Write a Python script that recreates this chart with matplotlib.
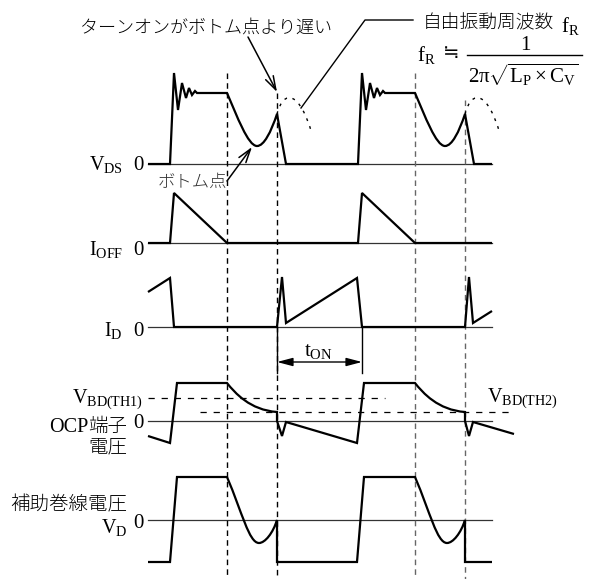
import matplotlib
matplotlib.use("Agg")
import matplotlib.pyplot as plt
from matplotlib.path import Path
from matplotlib.patches import PathPatch

plt.rcParams["mathtext.fontset"] = "custom"
plt.rcParams["mathtext.rm"] = "Liberation Serif"
plt.rcParams["mathtext.it"] = "Liberation Serif:italic"
plt.rcParams["mathtext.sf"] = "Liberation Serif"

SERIF = ["Liberation Serif", "Noto Sans CJK JP"]
JP = ["Noto Sans CJK JP", "DejaVu Sans"]

# ---------------- timing (shared time axis) ----------------
T_START, T_END = 148, 492
T_RESET = [227, 415]      # reset ends, free resonance begins
T_TURN_ON = [277, 465]    # switch turns on (later than the bottom)
MARK_TOP = [73, 93, 73, 100]

# ---------------- waveforms ----------------
# (t, level) vertices; ("C", t1, v1, t2, v2, t, v) is a cubic segment
vds = [(148, 0), (170, 0), (174, 91), (178, 54), (182, 81), (186, 66), (189, 76),
       (192, 69), (195, 73), (197, 71), (227, 71),
       ("C", 237, 48, 248, 18, 257, 18), ("C", 264, 18, 271, 32, 277, 50), (286, 0),
       (358, 0), (362, 91), (366, 54), (370, 81), (374, 66), (377, 76),
       (380, 69), (383, 73), (385, 71), (415, 71),
       ("C", 425, 48, 436, 18, 445, 18), ("C", 452, 18, 459, 32, 465, 50), (474, 0),
       (492, 0)]
vds_free_1 = [(277, 50), ("C", 284, 76, 300, 72, 312, 30)]
vds_free_2 = [(465, 50), ("C", 472, 76, 488, 72, 500, 30)]

i_off = [(148, 0), (170, 0), (174, 50), (227, 0), (358, 0), (362, 50), (415, 0), (492, 0)]

i_d = [(148, 35), (170, 49), (174, 0), (277, 0), (282, 50), (286, 4), (357, 49),
       (362, 0), (465, 0), (469, 50), (473, 4), (492, 16)]

v_ocp = [(148, -15), (170, -22), (177, 38), (227, 38),
         ("C", 235, 28, 250, 11, 277, 9), (277, 0), (282, -15), (286, -1),
         (357, -22), (364, 38), (415, 38),
         ("C", 423, 28, 438, 11, 465, 9), (465, 0), (469, -15), (473, -1),
         (514, -13)]
VBD_TH1, VBD_TH2 = 23, 9

v_d = [(148, -42), (170, -42), (177, 43), (227, 43),
       ("C", 242, 8, 249, -23, 259, -23), ("C", 265, -23, 273, -13, 277, 0),
       (277, -42), (357, -42), (364, 43), (415, 43),
       ("C", 430, 8, 437, -23, 447, -23), ("C", 453, -23, 461, -13, 465, 0),
       (465, -42), (492, -42)]

# zero-line position of each trace
BASE = {"vds": 164, "ioff": 243, "id": 327, "ocp": 421, "vd": 520}

W, H = 589, 579
fig = plt.figure(figsize=(W / 100, H / 100), dpi=100)
ax = fig.add_axes([0, 0, 1, 1])
ax.set_xlim(0, W)
ax.set_ylim(H, 0)
ax.axis("off")


def trace_path(points, base):
    verts, codes = [], []
    for i, p in enumerate(points):
        if p[0] == "C":
            _, t1, v1, t2, v2, t, v = p
            verts += [(t1, base - v1), (t2, base - v2), (t, base - v)]
            codes += [Path.CURVE4] * 3
        else:
            verts.append((p[0], base - p[1]))
            codes.append(Path.MOVETO if i == 0 else Path.LINETO)
    return Path(verts, codes)


def draw_trace(points, base, **kw):
    style = dict(fill=False, lw=1.6, ec="black", joinstyle="miter", capstyle="butt")
    style.update(kw)
    ax.add_patch(PathPatch(trace_path(points, base), **style))


# zero lines
for b in BASE.values():
    ax.plot([T_START, T_END], [b, b], color="#333333", lw=0.9, zorder=1)

# threshold lines on the OCP trace
ax.plot([T_START, 385], [BASE["ocp"] - VBD_TH1] * 2, color="black", lw=0.9,
        ls=(0, (5, 5.5)), zorder=1)
ax.plot([200, 510], [BASE["ocp"] - VBD_TH2] * 2, color="black", lw=0.9,
        ls=(0, (5, 5.5)), zorder=1)

# timing markers
marks = T_RESET[:1] + T_TURN_ON[:1] + T_RESET[1:] + T_TURN_ON[1:]
colors = ["black", "black", "#666666", "#666666"]
for x, top, c in zip(marks, MARK_TOP, colors):
    ax.plot([x, x], [top, H], color=c, lw=1.0, ls=(0, (4, 3)), zorder=1)

draw_trace(vds, BASE["vds"], zorder=3)
for arc in (vds_free_1, vds_free_2):
    draw_trace(arc, BASE["vds"], lw=1.0, ls=(0, (2, 4)), zorder=3)
draw_trace(i_off, BASE["ioff"], zorder=3)
draw_trace(i_d, BASE["id"], zorder=3)
draw_trace(v_ocp, BASE["ocp"], zorder=3)
draw_trace(v_d, BASE["vd"], zorder=3)

# t_ON dimension
ton_y = 362
for x in (T_TURN_ON[0], 362):
    ax.plot([x, x], [BASE["id"], 373], color="black", lw=1.0)
ax.annotate("", xy=(362, ton_y), xytext=(T_TURN_ON[0], ton_y),
            arrowprops=dict(arrowstyle="<|-|>,head_length=0.95,head_width=0.25",
                            mutation_scale=10, lw=1.0, color="black",
                            shrinkA=0, shrinkB=0))
ax.text(318, 356, r"$\mathrm{t_{ON}}$", fontsize=15, ha="center", va="baseline")

# callouts
arrow_kw = dict(arrowstyle="->,head_length=0.7,head_width=0.22", mutation_scale=14,
                lw=1.1, color="black", shrinkA=0, shrinkB=0)
ax.annotate("", xy=(277, 92), xytext=(248, 37), arrowprops=arrow_kw)
ax.annotate("", xy=(252, 147), xytext=(227, 181), arrowprops=arrow_kw)
ax.plot([301, 365, 413], [108, 20, 20], color="black", lw=1.0)

jp = dict(family=JP, fontweight="light")
ax.text(80, 28, "ターンオンがボトム点より遅い", fontsize=13, ha="left", va="center", **jp)
ax.text(158, 182, "ボトム点", fontsize=12.5, ha="left", va="center",
        color="#333333", **jp)
ax.text(423, 23, "自由振動周波数", fontsize=13.5, ha="left", va="center", **jp)
ax.text(561, 32, r"$\mathrm{f_R}$", fontsize=15, ha="left", va="baseline")

# resonance formula
ax.text(417, 61, r"$\mathrm{f_R}$", fontsize=15, ha="left", va="baseline")
ax.text(451, 53, "≒", family=["Noto Sans CJK JP", "DejaVu Sans"], fontsize=14,
        ha="center", va="center")
ax.text(525, 50, "1", family=SERIF, fontsize=15, ha="center", va="baseline")
ax.plot([467, 582], [55, 55], color="black", lw=1.0)
ax.text(468, 83, r"$\mathrm{2\pi\sqrt{L_P\times C_V}}$", fontsize=15,
        ha="left", va="baseline")

# trace labels
lab = dict(fontsize=14.5, ha="right", va="baseline")
ax.text(123, 170, r"$\mathrm{V_{DS}}$", **lab)
ax.text(123, 255, r"$\mathrm{I_{OFF}}$", **lab)
ax.text(123, 336, r"$\mathrm{I_{D}}$", **lab)
ax.text(143, 403, r"$\mathrm{V_{BD(TH1)}}$", **lab)
ax.text(487, 402, r"$\mathrm{V_{BD(TH2)}}$", fontsize=14.5, ha="left", va="baseline")
ax.text(127, 533, r"$\mathrm{V_{D}}$", **lab)
zero = dict(family=SERIF, fontsize=15, ha="center", va="baseline")
for y in (170, 255, 336, 428, 528):
    ax.text(138, y, "0", **zero)

ax.text(88, 432, "OCP", family=SERIF, fontsize=14.5, ha="right", va="baseline")
ax.text(127, 426, "端子", fontsize=14, ha="right", va="center", **jp)
ax.text(127, 447, "電圧", fontsize=14, ha="right", va="center", **jp)
ax.text(127, 505, "補助巻線電圧", fontsize=14, ha="right", va="center", **jp)

fig.savefig("out.png", dpi=100)
